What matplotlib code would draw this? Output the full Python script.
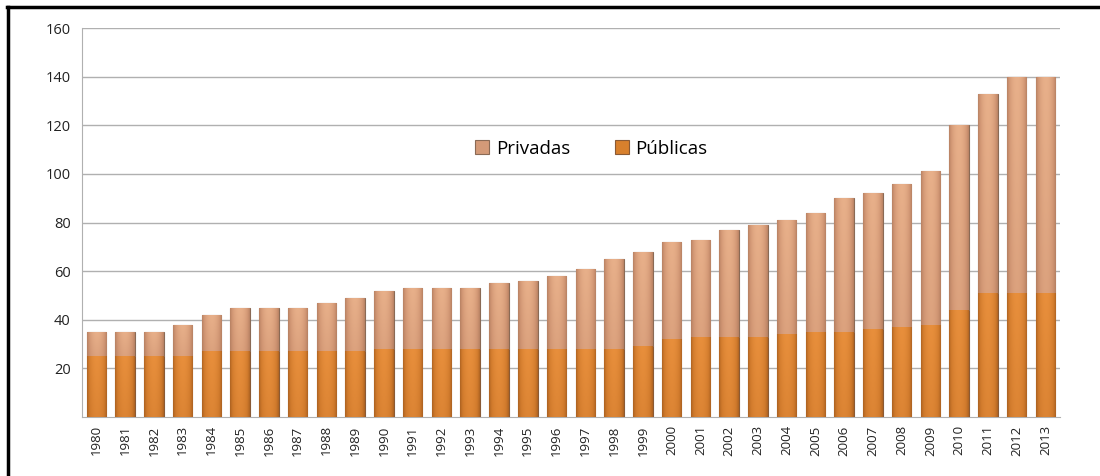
import numpy as np
import matplotlib.pyplot as plt
from matplotlib.colors import LinearSegmentedColormap
from matplotlib.lines import Line2D

years = [str(y) for y in range(1980, 2014)]
totals = [35, 35, 35, 38, 42, 45, 45, 45, 47, 49, 52, 53, 53, 53, 55, 56, 58,
          61, 65, 68, 72, 73, 77, 79, 81, 84, 90, 92, 96, 101, 120, 133, 140, 140]
publicas = [25, 25, 25, 25, 27, 27, 27, 27, 27, 27, 28, 28, 28, 28, 28, 28, 28,
            28, 28, 29, 32, 33, 33, 33, 34, 35, 35, 36, 37, 38, 44, 51, 51, 51]
privadas = [t - p for t, p in zip(totals, publicas)]
yticks = [20, 40, 60, 80, 100, 120, 140, 160]

plt.rcParams['font.family'] = ['Open Sans', 'DejaVu Sans']

fig = plt.figure(figsize=(11, 4.76), dpi=100)
ax = fig.add_axes([0.0745, 0.124, 0.889, 0.817])

x = np.arange(len(years))
w = 0.68
pub_col = '#d8802d'
priv_col = '#d49a78'
b1 = ax.bar(x, publicas, w, color=pub_col, edgecolor='#8a5a35', linewidth=0.8,
            label='Públicas', zorder=3)
b2 = ax.bar(x, privadas, w, bottom=publicas, color=priv_col, edgecolor='#8a6a55',
            linewidth=0.8, label='Privadas', zorder=3)

# shading inside each bar: darker sides, lighter middle, darker towards bottom
gx = np.sin(np.linspace(0.05, np.pi - 0.05, 64)) ** 0.6
gy = np.linspace(0.75, 1.0, 64)[:, np.newaxis]
shade = gy * gx[np.newaxis, :]
cm_pub = LinearSegmentedColormap.from_list('pub', ['#9a561c', '#d07a2c', '#e88f3c'])
cm_priv = LinearSegmentedColormap.from_list('priv', ['#a8765a', '#cf9472', '#e8b08a'])
for bars, cm in ((b1, cm_pub), (b2, cm_priv)):
    for r in bars:
        x0, y0 = r.get_x(), r.get_y()
        im = ax.imshow(shade, cmap=cm, aspect='auto', origin='lower',
                       extent=(x0, x0 + r.get_width(), y0, y0 + r.get_height()),
                       zorder=3.5, interpolation='bicubic', vmin=0, vmax=1)
        im.set_clip_path(r)

ax.set_xlim(-0.5, len(years) - 0.5)
ax.set_ylim(0, 160)
ax.set_yticks(yticks)
ax.set_yticklabels([str(v) for v in yticks], fontsize=10.5, color='#222222')
ax.set_xticks(x)
ax.set_xticklabels(years, rotation=90, fontsize=9.5, color='#222222')
ax.tick_params(length=0, pad=8)
ax.tick_params(axis='x', pad=6)
ax.yaxis.grid(True, color='#b0b0b0', linewidth=1)
ax.set_axisbelow(True)
for s in ['top', 'right']:
    ax.spines[s].set_visible(False)
ax.spines['left'].set_color('#b0b0b0')
ax.spines['bottom'].set_color('#b0b0b0')

handles = [b2, b1]
ax.legend(handles, ['Privadas', 'Públicas'], ncol=2, frameon=False, fontsize=13.5,
          loc='center', bbox_to_anchor=(0.521, 0.69), handlelength=0.75,
          handleheight=0.75, columnspacing=2.4, handletextpad=0.35)

# outer frame, only left and top edges show
fig.add_artist(Line2D([0.007, 0.007], [0.0, 0.985], color='black', lw=2.5))
fig.add_artist(Line2D([0.006, 1.0], [0.985, 0.985], color='black', lw=2.5))

fig.savefig('out.png', dpi=100)
